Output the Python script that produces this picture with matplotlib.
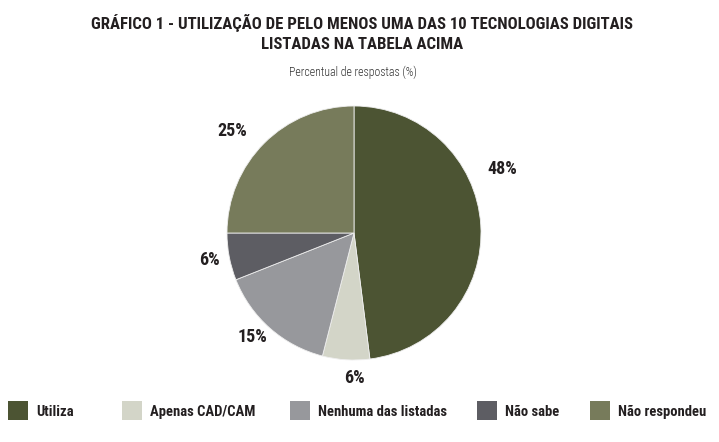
import matplotlib.pyplot as plt
from matplotlib.patches import Rectangle

plt.rcParams['font.family'] = ['Roboto Condensed', 'DejaVu Sans']

# dados
categorias = ['Utiliza', 'Apenas CAD/CAM', 'Nenhuma das listadas', 'Não sabe', 'Não respondeu']
valores = [48, 6, 15, 6, 25]
cores = ['#4c5433', '#d3d5c8', '#97989c', '#5d5d63', '#777b5b']

# posicoes dos rotulos (em raios) e da legenda (fracao da figura)
pos_rotulos = [(1.17, 0.50), (0.0, -1.14), (-0.80, -0.82), (-1.14, -0.21), (-0.96, 0.80)]
pos_legenda = [0.011, 0.170, 0.403, 0.663, 0.820]

fig = plt.figure(figsize=(7.19, 4.42), dpi=100)
cor_texto = '#231f20'

fig.text(0.503, 0.947, 'GRÁFICO 1 - UTILIZAÇÃO DE PELO MENOS UMA DAS 10 TECNOLOGIAS DIGITAIS',
         ha='center', va='center', fontsize=12.1, fontweight='bold', color=cor_texto)
fig.text(0.503, 0.900, 'LISTADAS NA TABELA ACIMA',
         ha='center', va='center', fontsize=12.1, fontweight='bold', color=cor_texto)
fig.text(0.491, 0.837, 'Percentual de respostas (%)',
         ha='center', va='center', fontsize=8.6, fontweight='light', color='#333333')

ax = fig.add_axes([(354 - 127) / 719, (442 - 360) / 442, 254 / 719, 254 / 442])
wedges, textos = ax.pie(valores, colors=cores, startangle=90, counterclock=False,
                        wedgeprops=dict(edgecolor='#eeeeee', linewidth=0.6))
ax.set_xlim(-1, 1)
ax.set_ylim(-1, 1)

for v, (x, y) in zip(valores, pos_rotulos):
    ax.text(x, y, f'{v}%', ha='center', va='center', fontsize=13,
            fontweight='bold', color=cor_texto)

# legenda manual
for cat, cor, x in zip(categorias, cores, pos_legenda):
    fig.patches.append(Rectangle((x, 0.050), 0.0278, 0.043, transform=fig.transFigure,
                                 facecolor=cor, edgecolor='none'))
    fig.text(x + 0.039, 0.069, cat, ha='left', va='center', fontsize=10.5,
             fontweight='bold', color=cor_texto)

fig.savefig('out.png', dpi=100, facecolor='white')
